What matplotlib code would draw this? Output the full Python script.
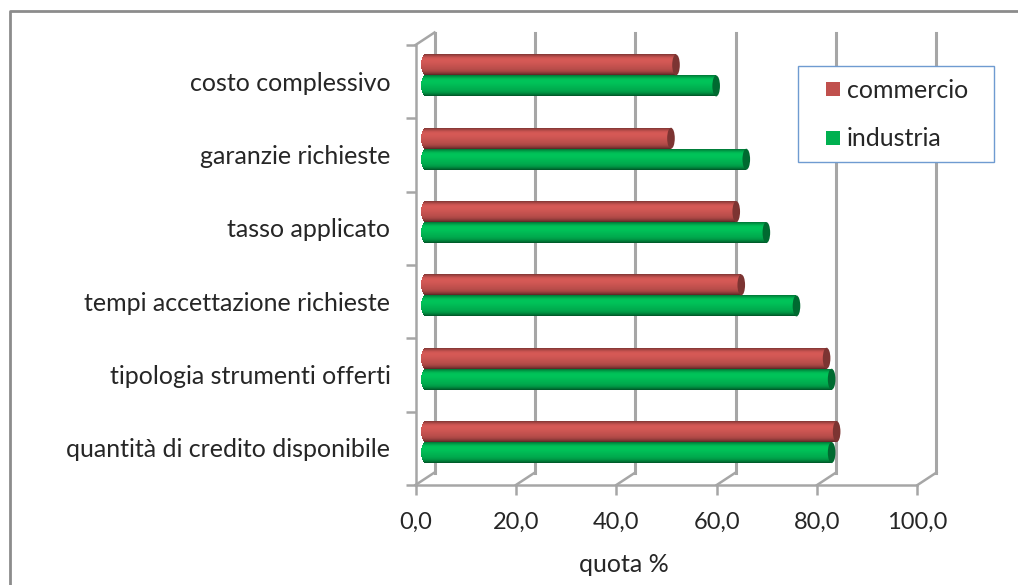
import numpy as np
import matplotlib
matplotlib.use('Agg')
import matplotlib.pyplot as plt
from matplotlib.patches import Ellipse, Rectangle
from matplotlib.transforms import ScaledTranslation

plt.rcParams['font.family'] = ['Lato', 'DejaVu Sans']

# Data
categories = ['quantità di credito disponibile', 'tipologia strumenti offerti',
              'tempi accettazione richieste', 'tasso applicato',
              'garanzie richieste', 'costo complessivo']
commercio = [82, 80, 63, 62, 49, 50]
industria = [81, 81, 74, 68, 64, 58]
x_ticks = [0, 20, 40, 60, 80, 100]
x_labels = ['0,0', '20,0', '40,0', '60,0', '80,0', '100,0']

W, H = 1018, 585
dpi = 100
GRID = '#a6a6a6'
TEXT = '#262626'
FS = 18

fig = plt.figure(figsize=(W / dpi, H / dpi), dpi=dpi)
fig.patch.set_facecolor('white')

# outer chart frame, open on the right and bottom
fig.add_artist(plt.Line2D([9.5 / W, 9.5 / W, 1], [0, 1 - 10.5 / H, 1 - 10.5 / H],
                          color='#8c8c8c', lw=2.0, transform=fig.transFigure))

# front plane of the plot box, in pixels
left, right, top, bottom = 415.5, 917.5, 45, 485
ax = fig.add_axes([left / W, 1 - bottom / H, (right - left) / W, (bottom - top) / H])
ax.set_xlim(0, 100)
ax.set_ylim(0, 6)
ax.patch.set_visible(False)
for s in ax.spines.values():
    s.set_visible(False)
for s in ['left', 'bottom']:
    ax.spines[s].set_visible(True)
    ax.spines[s].set_color(GRID)
    ax.spines[s].set_linewidth(1.8)

ax.set_xticks(x_ticks)
ax.set_xticklabels(x_labels, fontsize=17, color=TEXT)
ax.set_yticks(range(7))
ax.set_yticklabels([])
ax.tick_params(axis='both', color=GRID, width=1.8, length=7)
ax.tick_params(axis='x', direction='out', length=7, pad=12)

depth_x, depth_y = 19, 12.5
back = ax.transData + ScaledTranslation(depth_x / dpi, depth_y / dpi, fig.dpi_scale_trans)
mid = ax.transData + ScaledTranslation(depth_x / 2 / dpi, depth_y / 2 / dpi, fig.dpi_scale_trans)
label_tr = ax.transData + ScaledTranslation(0, -1.5 / dpi, fig.dpi_scale_trans)

# gridlines on the back wall and the slanted floor lines
for t in x_ticks:
    ax.plot([t, t], [0, 6], color=GRID, lw=2.2, transform=back, clip_on=False, zorder=1)
    ax.plot([t, t + depth_x / 5.02], [0, depth_y * 6 / 440], color=GRID, lw=1.8,
            clip_on=False, zorder=1)
ax.plot([0, depth_x / 5.02], [6, 6 + depth_y * 6 / 440], color=GRID, lw=1.8,
        clip_on=False, zorder=1)

for i, c in enumerate(categories):
    ax.text(-5.0, i + 0.5, c, ha='right', va='center', fontsize=FS, color=TEXT, transform=label_tr)
fig.text(624 / W, 1 - 565 / H, 'quota %', ha='center', va='center', fontsize=FS, color=TEXT)

# shading across the cylinder, top edge to bottom edge
bar_h = 21 * 6 / 440
cap_a = 3.8 / 5.02
strips = 21
ramp = [0.72, 0.84, 0.95, 1.04, 1.09, 1.11, 1.11, 1.10, 1.09, 1.07, 1.05,
        1.03, 1.01, 0.99, 0.97, 0.94, 0.90, 0.84, 0.75, 0.65, 0.52]


def draw_cylinder(y, value, color, cap_color):
    rgb = np.array(matplotlib.colors.to_rgb(color))
    dy = bar_h / strips
    for k in range(strips):
        # k = 0 is the top strip
        yc = y + bar_h / 2 - (k + 0.5) * dy
        u = (yc - y) / (bar_h / 2)
        start = -cap_a * np.sqrt(max(0, 1 - u * u))
        shade = np.clip(rgb * ramp[k], 0, 1)
        ax.barh(yc, value - start, left=start, height=dy * 1.05, color=shade, lw=0,
                transform=mid, clip_on=False, zorder=3)
    ax.add_patch(Ellipse((value, y), 2 * cap_a, bar_h, facecolor=cap_color, edgecolor='none',
                         transform=mid, clip_on=False, zorder=4))


for i in range(len(categories)):
    draw_cylinder(i + 0.5 + bar_h / 2, commercio[i], '#c0504d', '#7c3432')
    draw_cylinder(i + 0.5 - bar_h / 2, industria[i], '#00b050', '#006a30')

# legend box, drawn by hand in figure pixels
lx0, ly0, lx1, ly1 = 798, 66, 994, 162
fig.add_artist(Rectangle((lx0 / W, 1 - ly1 / H), (lx1 - lx0) / W, (ly1 - ly0) / H,
                         facecolor='white', edgecolor='#6f9bd1', lw=1.0,
                         transform=fig.transFigure, zorder=5))
for name, col, yy in [('commercio', '#c0504d', 89), ('industria', '#00b050', 138)]:
    fig.add_artist(Rectangle((826 / W, 1 - (yy + 7) / H), 14 / W, 14 / H, facecolor=col,
                             edgecolor='none', transform=fig.transFigure, zorder=6))
    fig.text(846.5 / W, 1 - (yy + 1) / H, name, ha='left', va='center', fontsize=FS, color=TEXT, zorder=6)

fig.savefig('out.png', dpi=dpi)
